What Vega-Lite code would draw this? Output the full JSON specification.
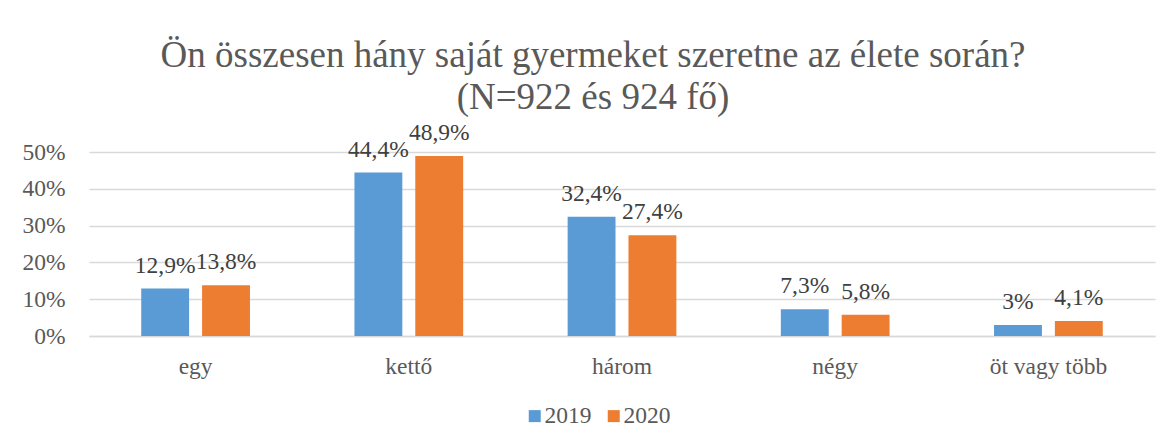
{
  "$schema": "https://vega.github.io/schema/vega-lite/v6.json",
  "width": 1066,
  "height": 184,
  "autosize": {"type": "none"},
  "padding": {"left": 89, "top": 152, "right": 18, "bottom": 111},
  "background": "white",
  "config": {"view": {"stroke": null}, "font": "'Liberation Serif', 'Times New Roman', serif"},
  "title": {
    "text": ["Ön összesen hány saját gyermeket szeretne az élete során?", "(N=922 és 924 fő)"],
    "font": "'Liberation Serif', 'Times New Roman', serif",
    "fontSize": 37,
    "fontWeight": "normal",
    "color": "#595959",
    "anchor": "middle",
    "dx": -29,
    "lineHeight": 42,
    "offset": 4
  },
  "data": {
    "values": [
      {"cat": "egy", "year": "2019", "value": 12.9, "label": "12,9%"},
      {"cat": "egy", "year": "2020", "value": 13.8, "label": "13,8%"},
      {"cat": "kettő", "year": "2019", "value": 44.4, "label": "44,4%"},
      {"cat": "kettő", "year": "2020", "value": 48.9, "label": "48,9%"},
      {"cat": "három", "year": "2019", "value": 32.4, "label": "32,4%"},
      {"cat": "három", "year": "2020", "value": 27.4, "label": "27,4%"},
      {"cat": "négy", "year": "2019", "value": 7.3, "label": "7,3%"},
      {"cat": "négy", "year": "2020", "value": 5.8, "label": "5,8%"},
      {"cat": "öt vagy több", "year": "2019", "value": 3, "label": "3%"},
      {"cat": "öt vagy több", "year": "2020", "value": 4.1, "label": "4,1%"}
    ]
  },
  "encoding": {
    "x": {
      "field": "cat",
      "type": "nominal",
      "sort": null,
      "scale": {"paddingInner": 0.49, "paddingOuter": 0.245},
      "axis": {
        "title": null,
        "labelAngle": 0,
        "labelFont": "'Liberation Serif', 'Times New Roman', serif",
        "labelFontSize": 23.5,
        "labelColor": "#595959",
        "ticks": false,
        "domainColor": "#d9d9d9",
        "domainWidth": 1.5,
        "labelPadding": 18
      }
    },
    "xOffset": {
      "field": "year",
      "type": "nominal",
      "scale": {"paddingInner": 0.213, "paddingOuter": 0}
    },
    "y": {
      "field": "value",
      "type": "quantitative",
      "scale": {"domain": [0, 50], "nice": false},
      "axis": {
        "title": null,
        "values": [0, 10, 20, 30, 40, 50],
        "labelExpr": "datum.value + '%'",
        "labelFont": "'Liberation Serif', 'Times New Roman', serif",
        "labelFontSize": 23.5,
        "labelColor": "#595959",
        "ticks": false,
        "domain": false,
        "labelPadding": 24,
        "gridColor": "#d9d9d9",
        "gridWidth": 1.5
      }
    }
  },
  "layer": [
    {
      "mark": {"type": "bar"},
      "encoding": {
        "color": {
          "field": "year",
          "type": "nominal",
          "scale": {"domain": ["2019", "2020"], "range": ["#5B9BD5", "#ED7D31"]},
          "legend": {
            "orient": "none",
            "legendX": 434,
            "legendY": 252,
            "direction": "horizontal",
            "title": null,
            "symbolType": "square",
            "symbolSize": 144,
            "symbolStrokeWidth": 0,
            "labelFont": "'Liberation Serif', 'Times New Roman', serif",
            "labelFontSize": 23.5,
            "labelColor": "#595959",
            "labelOffset": -2,
            "columnPadding": 10
          }
        }
      }
    },
    {
      "mark": {
        "type": "text",
        "baseline": "alphabetic",
        "dy": -16,
        "font": "'Liberation Serif', 'Times New Roman', serif",
        "fontSize": 23.5,
        "color": "#404040"
      },
      "encoding": {
        "text": {"field": "label", "type": "nominal"}
      }
    }
  ]
}
